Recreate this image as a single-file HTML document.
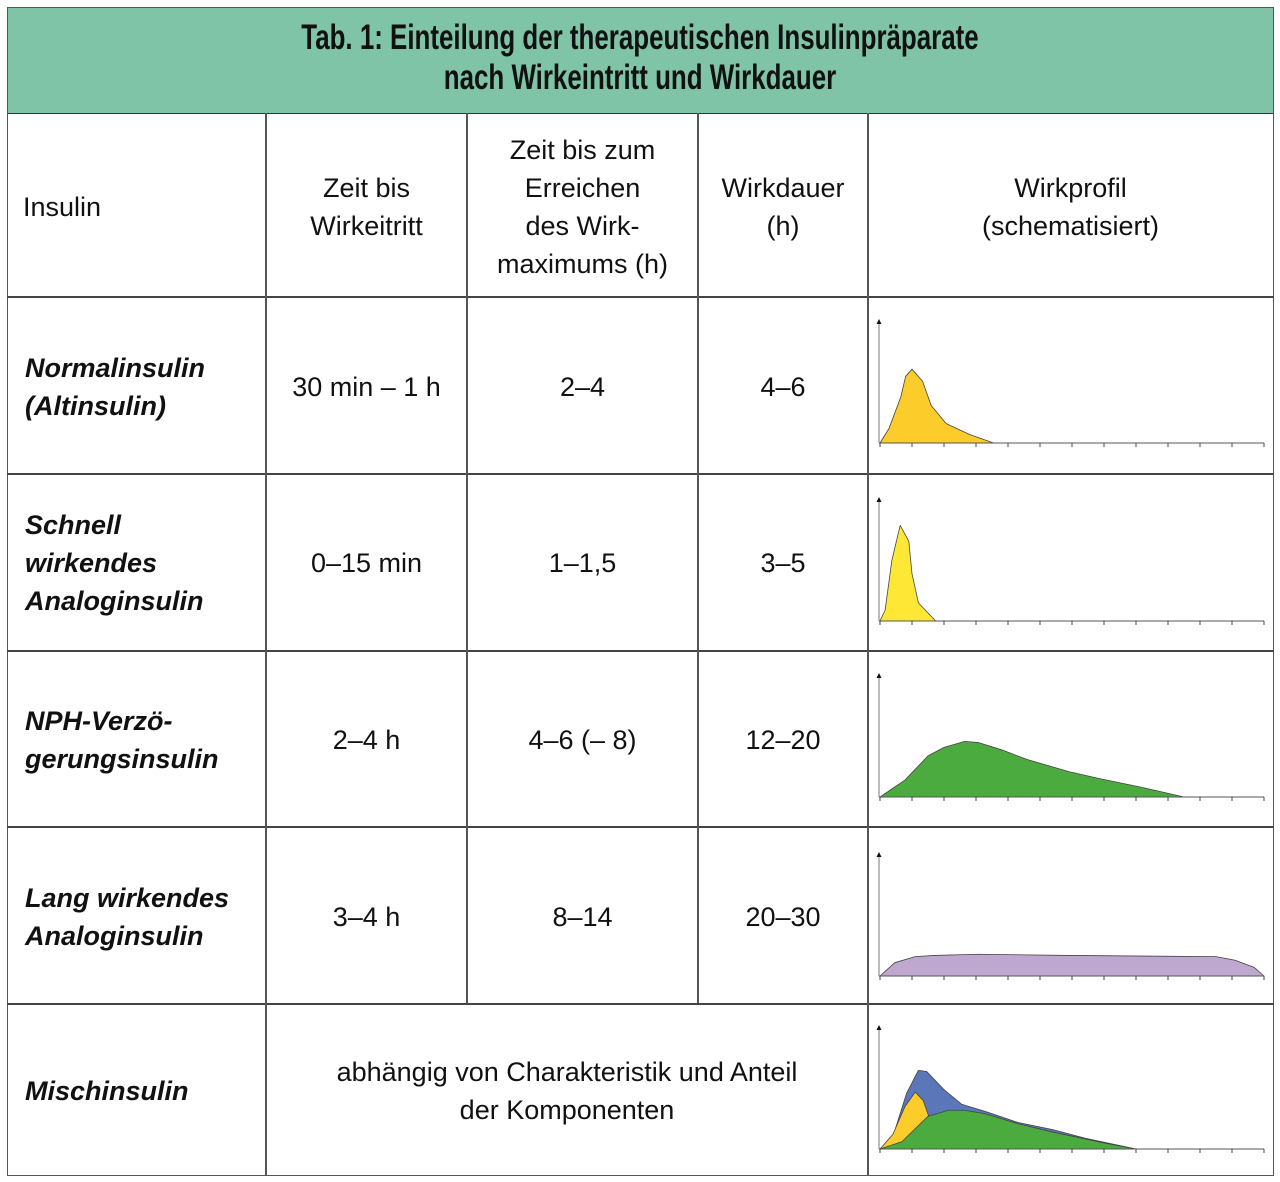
<!DOCTYPE html>
<html><head><meta charset="utf-8">
<style>
body{margin:0;width:1280px;height:1182px;background:#fff;font-family:"Liberation Sans",sans-serif;position:relative;overflow:hidden}
.abs{position:absolute}
.t{position:absolute;font-size:27px;color:#111;line-height:38px}
.c{text-align:center}
.i{font-style:italic;font-weight:bold}
.hl{position:absolute;background:#444;height:1.5px}
.vl{position:absolute;background:#555;width:1.5px}
</style></head><body>
<div class="abs" style="left:7px;top:7px;width:1265px;height:105px;background:#7fc4a7;border:1.5px solid #555;border-bottom:1.5px solid #333"></div>
<div class="abs" style="left:140px;top:18px;width:1000px;text-align:center;font-weight:bold;font-size:35px;line-height:40px;transform:scaleX(0.74);transform-origin:center top;color:#111">Tab. 1: Einteilung der therapeutischen Insulinpräparate<br>nach Wirkeintritt und Wirkdauer</div>
<div class="abs" style="left:7px;top:113px;width:1265px;height:1062px;border:1.5px solid #555;border-top:none"></div>
<div class="hl" style="left:7px;width:1267px;top:296px"></div>
<div class="hl" style="left:7px;width:1267px;top:473px"></div>
<div class="hl" style="left:7px;width:1267px;top:650px"></div>
<div class="hl" style="left:7px;width:1267px;top:826px"></div>
<div class="hl" style="left:7px;width:1267px;top:1003px"></div>
<div class="vl" style="left:265px;top:113px;height:1063px"></div>
<div class="vl" style="left:466px;top:113px;height:890px"></div>
<div class="vl" style="left:697px;top:113px;height:890px"></div>
<div class="vl" style="left:867px;top:113px;height:1063px"></div>

<div class="t" style="left:23px;top:188px">Insulin</div>
<div class="t c" style="left:266px;width:201px;top:169px">Zeit bis<br>Wirkeitritt</div>
<div class="t c" style="left:467px;width:231px;top:131px">Zeit bis zum<br>Erreichen<br>des Wirk-<br>maximums (h)</div>
<div class="t c" style="left:698px;width:170px;top:169px">Wirkdauer<br>(h)</div>
<div class="t c" style="left:868px;width:405px;top:169px">Wirkprofil<br>(schematisiert)</div>

<div class="t i" style="left:25px;top:349px">Normalinsulin<br>(Altinsulin)</div>
<div class="t c" style="left:266px;width:201px;top:368px">30 min – 1 h</div>
<div class="t c" style="left:467px;width:231px;top:368px">2–4</div>
<div class="t c" style="left:698px;width:170px;top:368px">4–6</div>

<div class="t i" style="left:25px;top:506px">Schnell<br>wirkendes<br>Analoginsulin</div>
<div class="t c" style="left:266px;width:201px;top:544px">0–15 min</div>
<div class="t c" style="left:467px;width:231px;top:544px">1–1,5</div>
<div class="t c" style="left:698px;width:170px;top:544px">3–5</div>

<div class="t i" style="left:25px;top:702px">NPH-Verzö-<br>gerungsinsulin</div>
<div class="t c" style="left:266px;width:201px;top:721px">2–4 h</div>
<div class="t c" style="left:467px;width:231px;top:721px">4–6 (– 8)</div>
<div class="t c" style="left:698px;width:170px;top:721px">12–20</div>

<div class="t i" style="left:25px;top:879px">Lang wirkendes<br>Analoginsulin</div>
<div class="t c" style="left:266px;width:201px;top:898px">3–4 h</div>
<div class="t c" style="left:467px;width:231px;top:898px">8–14</div>
<div class="t c" style="left:698px;width:170px;top:898px">20–30</div>

<div class="t i" style="left:25px;top:1072px">Mischinsulin</div>
<div class="t c" style="left:266px;width:602px;top:1053px">abhängig von Charakteristik und Anteil<br>der Komponenten</div>

<svg id="charts" class="abs" style="left:0;top:0" width="1280" height="1182"></svg>
<script>
// x in time-tick units (0..12), y relative effect (0..1)
const normalX=[0,0.28,0.65,0.8,1.0,1.33,1.6,2.07,2.8,3.55];
const normalY=[0,0.12,0.38,0.55,0.61,0.51,0.31,0.16,0.07,0];
const schnellX=[0,0.16,0.37,0.63,0.9,1.0,1.2,1.74];
const schnellY=[0,0.09,0.5,0.79,0.66,0.39,0.15,0];
const nphX=[0,0.78,1.5,2.0,2.65,3.07,3.8,4.6,5.9,6.9,8.0,8.6,9.5];
const nphY=[0,0.14,0.34,0.41,0.46,0.45,0.39,0.31,0.21,0.15,0.09,0.055,0];
const langX=[0,0.46,1.1,1.7,3.07,5.9,10.5,11.1,11.7,12];
const langY=[0,0.11,0.16,0.17,0.18,0.17,0.16,0.13,0.07,0];
const mixTotalX=[0,0.4,0.83,1.2,1.46,2.0,2.55,3.3,4.3,5.4,6.4,8.0];
const mixTotalY=[0,0.1,0.46,0.65,0.64,0.49,0.37,0.31,0.22,0.16,0.09,0];
const mixFastX=[0,0.4,0.78,1.1,1.35,1.55,1.8];
const mixFastY=[0,0.12,0.35,0.47,0.4,0.25,0];
const mixSlowX=[0,0.68,1.5,2.14,2.65,3.3,4.3,5.4,7.0,8.0];
const mixSlowY=[0,0.06,0.27,0.32,0.32,0.29,0.21,0.14,0.05,0];
const ticks=[0,1,2,3,4,5,6,7,8,9,10,11,12];

const svg=document.getElementById('charts');
const NS='http://www.w3.org/2000/svg';
const X0=880, TW=32, UNIT=121;
function mk(tag,attrs){const e=document.createElementNS(NS,tag);for(const k in attrs)e.setAttribute(k,attrs[k]);svg.appendChild(e);return e;}
function sx(v){return X0+v*TW;}
function axes(base,name){
  const ax=mk('line',{x1:X0-1,y1:base,x2:sx(12),y2:base,stroke:'#555','stroke-width':1});
  
  
  const ay=mk('line',{x1:X0-1,y1:base,x2:X0-1,y2:base-UNIT,stroke:'#777','stroke-width':1});
  
  
  const ar=mk('polygon',{points:`${X0-3.5},${base-UNIT+2} ${X0+1.5},${base-UNIT+2} ${X0-1},${base-UNIT-3}`,fill:'#111'});
  
  
  ticks.forEach(t=>{
    const tk=mk('line',{x1:sx(t),y1:base,x2:sx(t),y2:base+4,stroke:'#444','stroke-width':1});
    
    
  });
}
function area(xs,ys,base,fill,name){
  let d=`M${sx(xs[0])},${base}`;
  xs.forEach((x,i)=>{d+=` L${sx(x)},${base-ys[i]*UNIT}`;});
  d+=` L${sx(xs[xs.length-1])},${base} Z`;
  const p=mk('path',{d:d,fill:fill,stroke:'#444','stroke-width':0.8,'stroke-linejoin':'round'});
  
  
}
area(normalX,normalY,443,'#fccc2a','normal-profile');axes(443,'normal-chart');
area(schnellX,schnellY,621,'#ffe835','schnell-profile');axes(621,'schnell-chart');
area(nphX,nphY,797,'#4cab3e','nph-profile');axes(797,'nph-chart');
area(langX,langY,976,'#bfa8d0','lang-profile');axes(976,'lang-chart');
area(mixTotalX,mixTotalY,1149,'#5b76b9','misch-total-profile');
area(mixFastX,mixFastY,1149,'#fccc2a','misch-fast-profile');
area(mixSlowX,mixSlowY,1149,'#4cab3e','misch-slow-profile');
axes(1149,'misch-chart');
</script>
</body></html>
